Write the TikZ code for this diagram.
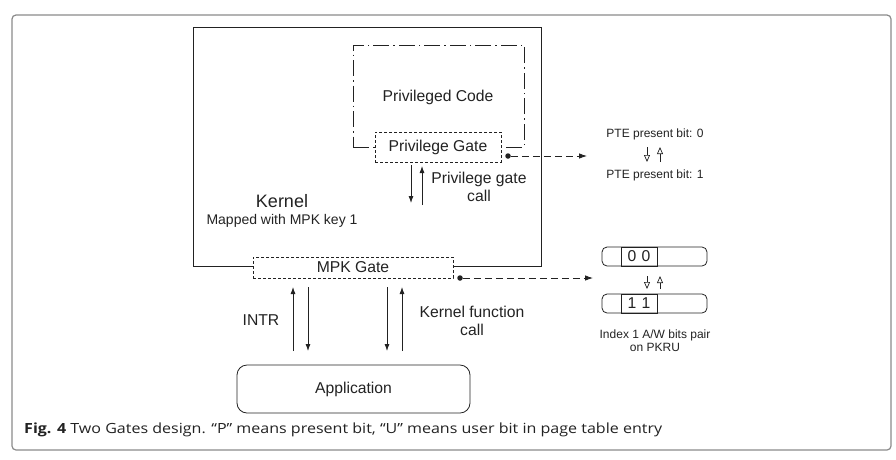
\documentclass[tikz,border=0pt]{standalone}
\usepackage{fontspec}
\usepackage{graphicx}
\setmainfont{Liberation Sans}
\newfontfamily\capfont{Open Sans}
\usetikzlibrary{arrows.meta}
\definecolor{ink}{HTML}{222222}
\definecolor{framegray}{HTML}{8A8A8A}
\begin{document}
\begin{tikzpicture}[x=1pt,y=-1pt,
  every node/.style={text=ink},
  box/.style={draw=ink, line width=0.8pt, inner sep=0pt},
  dashbox/.style={box, fill=white, dash pattern=on 3pt off 2pt},
  dashdotbox/.style={box, dash pattern=on 16pt off 4pt on 1.5pt off 4pt},
  big/.style={font=\fontsize{15.7}{18}\selectfont},
  small/.style={font=\fontsize{12}{13.5}\selectfont},
  farrow/.style={draw=ink, line width=0.8pt, -{Latex[length=7pt,width=5pt]}},
  harrow/.style={draw=ink, line width=0.7pt, -{Triangle[open,length=7pt,width=6pt]}},
  dconn/.style={draw=ink, line width=0.8pt, dash pattern=on 7pt off 4pt, -{Latex[length=8pt,width=5.5pt]}},
  dotnode/.style={circle, fill=ink, inner sep=0pt, minimum size=5.5pt},
  regbox/.style={box, rounded corners=5pt, minimum width=105pt, minimum height=19pt},
  regcell/.style={box, minimum width=36pt, minimum height=19pt, big}
]
\useasboundingbox (0,0) rectangle (896,459);

% outer frame
\node[draw=framegray, line width=1.2pt, rounded corners=4pt, minimum width=879pt, minimum height=435pt, inner sep=0pt] (frame) at (451.5,232.5) {};

% kernel
\node[box, minimum width=348pt, minimum height=239pt] (kernel) at (367,146.5) {};
\node[font=\fontsize{18}{20}\selectfont] (kernellbl) at (282,201) {Kernel};
\node[font=\fontsize{14}{16}\selectfont] (kernelsub) at (282,221) {Mapped with MPK key 1};

% privileged code
\node[dashdotbox, minimum width=171pt, minimum height=102pt] (privcode) at (438.5,96) {};
\node[big] (privcodelbl) at (438,97) {Privileged Code};
\node[dashbox, big, minimum width=126pt, minimum height=30pt] (privgate) at (438,147) {Privilege Gate};

% privilege gate call arrows
\coordinate (pga) at (411,165);
\coordinate (pgb) at (411,203);
\coordinate (pgc) at (422,205);
\coordinate (pgd) at (422,166);
\draw[farrow] (pga) -- (pgb);
\draw[farrow] (pgc) -- (pgd);
\node[big, align=center] (pgcall) at (479,187) {Privilege gate\\call};

% MPK gate
\node[dashbox, big, minimum width=200pt, minimum height=21pt] (mpkgate) at (353,267.5) {MPK Gate};

% dots and dashed connectors
\node[dotnode] (pdot) at (508,156) {};
\coordinate (ptetip) at (587,156);
\draw[dconn] (pdot) -- (ptetip);
\node[dotnode] (mdot) at (460,278) {};
\coordinate (regtip) at (593,278);
\draw[dconn] (mdot) -- (regtip);

% PTE bits
\node[small] (pte0) at (655,134) {PTE present bit: 0};
\node[small] (pte1) at (655,175) {PTE present bit: 1};
\coordinate (ptea) at (647,147);
\coordinate (pteb) at (647,162);
\coordinate (ptec) at (660,162);
\coordinate (pted) at (660,147);
\draw[harrow] (ptea) -- (pteb);
\draw[harrow] (ptec) -- (pted);

% PKRU registers
\node[regbox] (reg0) at (654.5,256.5) {};
\node[regcell] (cell0) at (639,256.5) {0\,\,0};
\node[regbox] (reg1) at (654.5,303.5) {};
\node[regcell] (cell1) at (639,303.5) {1\,\,1};
\coordinate (rga) at (647,276);
\coordinate (rgb) at (647,289);
\coordinate (rgc) at (660,289);
\coordinate (rgd) at (660,276);
\draw[harrow] (rga) -- (rgb);
\draw[harrow] (rgc) -- (rgd);
\node[small, align=center] (pkru) at (655,340.5) {Index 1 A/W bits pair\\on PKRU};

% application
\node[box, big, rounded corners=10pt, minimum width=233pt, minimum height=48pt] (app) at (353.5,389) {Application};

% INTR / kernel function call arrows
\coordinate (ia) at (293,351);
\coordinate (ib) at (293,287);
\coordinate (ic) at (308,287);
\coordinate (id) at (308,351);
\draw[farrow] (ia) -- (ib);
\draw[farrow] (ic) -- (id);
\node[big] (intr) at (261,320) {INTR};
\coordinate (ka) at (387,287);
\coordinate (kb) at (387,351);
\coordinate (kc) at (402,351);
\coordinate (kd) at (402,287);
\draw[farrow] (ka) -- (kb);
\draw[farrow] (kc) -- (kd);
\node[big, align=center] (kfcall) at (472,320.5) {Kernel function\\call};

% caption
\node[anchor=west, inner sep=0pt, font=\capfont\fontsize{14}{16}\selectfont] (caption) at (24,430) {\scalebox{1.146}[1]{\textbf{Fig. 4} Two Gates design. “P” means present bit, “U” means user bit in page table entry}};
\end{tikzpicture}
\end{document}
